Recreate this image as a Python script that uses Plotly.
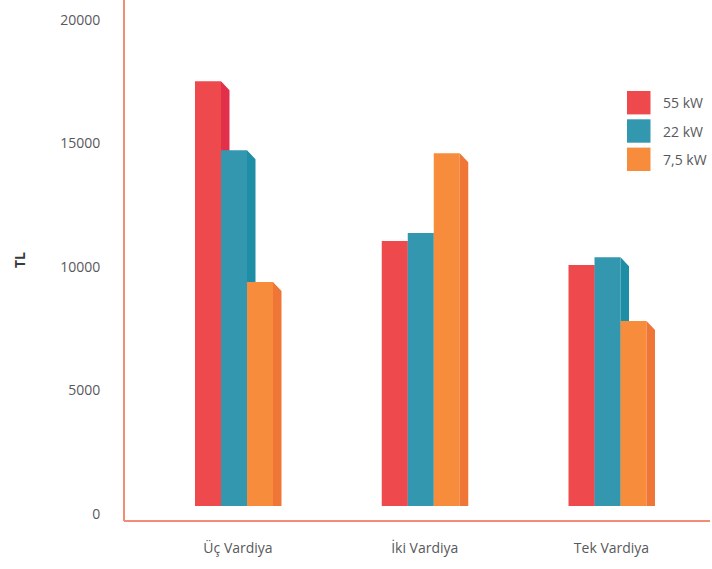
import plotly.graph_objects as go

categories = ["Üç Vardiya", "İki Vardiya", "Tek Vardiya"]
series_names = ["55 kW", "22 kW", "7,5 kW"]
values_55kw = [17200, 10730, 9760]
values_22kw = [14400, 11050, 10070]
values_7_5kw = [9070, 14280, 7490]
y_tick_values = [0, 5000, 10000, 15000, 20000]
y_tick_labels = ["0", "5000", "10000", "15000", "20000"]
y_title = "TL"

front_colors = ["#EE4A4D", "#3397B0", "#F68C3C"]
side_colors = ["#E3304A", "#1E8DA6", "#EF7636"]

series_values = [values_55kw, values_22kw, values_7_5kw]
xpos = list(range(len(categories)))

px_per_cat = 186.75
bar_w = 26 / px_per_cat
side_w = 8.5 / px_per_cat
group_left = -43 / px_per_cat
y_px = 0.0247  # px per unit
side_drop = 9 / y_px

text_color = "#58595B"
axis_color = "#F38B76"

fig = go.Figure()
z = 0
for j, (name, vals) in enumerate(zip(series_names, series_values)):
    fig.add_trace(go.Bar(
        x=xpos, y=vals, name=name,
        offset=group_left + j * bar_w, width=bar_w,
        marker=dict(color=front_colors[j], line=dict(width=0)),
        showlegend=False, zorder=z,
    ))
    z += 1
    sx, sy = [], []
    for i, v in zip(xpos, vals):
        xl = i + group_left + (j + 1) * bar_w
        xr = xl + side_w
        sx += [xl, xr, xr, xl, xl, None]
        sy += [v, v - side_drop, 0, 0, v, None]
    fig.add_trace(go.Scatter(
        x=sx, y=sy, mode="lines", fill="toself",
        fillcolor=side_colors[j], line=dict(width=0, color=side_colors[j]),
        showlegend=False, hoverinfo="skip", zorder=z,
    ))
    z += 1

W, H = 712, 569
ml, mr, mt, mb = 124, 2, 0, 48
pw, ph = W - ml - mr, H - mt - mb


def px_to_paper_x(px):
    return (px - ml) / pw


def px_to_paper_y(py):
    return (H - mb - py) / ph


# axis lines
fig.add_shape(type="line", xref="paper", yref="paper", x0=0, x1=0, y0=0, y1=1,
              line=dict(color=axis_color, width=2), layer="above")
fig.add_shape(type="line", xref="paper", yref="paper", x0=0, x1=1, y0=0, y1=0,
              line=dict(color=axis_color, width=2), layer="above")

# legend drawn as boxes + labels
leg_x0, leg_x1 = 627, 650.5
leg_y0 = 102.7
leg_step = 28.3
for j, name in enumerate(series_names):
    cy = leg_y0 + j * leg_step
    fig.add_shape(type="rect", xref="paper", yref="paper",
                  x0=px_to_paper_x(leg_x0), x1=px_to_paper_x(leg_x1),
                  y0=px_to_paper_y(cy + 11.7), y1=px_to_paper_y(cy - 11.7),
                  fillcolor=front_colors[j], line=dict(width=0))
    fig.add_annotation(xref="paper", yref="paper",
                       x=px_to_paper_x(661), y=px_to_paper_y(cy),
                       xanchor="left", yanchor="middle", showarrow=False,
                       text=name, font=dict(size=14, color=text_color,
                                            family="Open Sans"))

fig.add_annotation(xref="paper", yref="paper",
                   x=px_to_paper_x(19), y=px_to_paper_y(260),
                   xanchor="center", yanchor="middle", showarrow=False,
                   text="<b>" + y_title + "</b>", textangle=-90,
                   font=dict(size=14, color="#3a3a3a", family="Open Sans"))

y_bottom = -15 / y_px
y_top = y_bottom + ph / y_px
x_left = (ml - 238) / px_per_cat
x_right = x_left + pw / px_per_cat

fig.update_layout(
    width=W, height=H,
    margin=dict(l=ml, r=mr, t=mt, b=mb, pad=0),
    paper_bgcolor="white", plot_bgcolor="rgba(0,0,0,0)",
    barmode="overlay",
    showlegend=False,
    font=dict(family="Open Sans", color=text_color, size=14),
    xaxis=dict(
        range=[x_left, x_right], tickmode="array", tickvals=xpos,
        ticktext=categories, showgrid=False, zeroline=False,
        showline=False,
        ticks="outside", ticklen=14, tickcolor="rgba(0,0,0,0)",
        tickfont=dict(size=14, color=text_color), fixedrange=True,
    ),
    yaxis=dict(
        range=[y_bottom, y_top], tickmode="array", tickvals=y_tick_values,
        ticktext=y_tick_labels, showgrid=False, zeroline=False,
        showline=False,
        ticks="outside", ticklen=20, tickcolor="rgba(0,0,0,0)",
        ticklabelshift=8,
        tickfont=dict(size=14, color=text_color), fixedrange=True,
    ),
)

fig.write_html("out.html")
